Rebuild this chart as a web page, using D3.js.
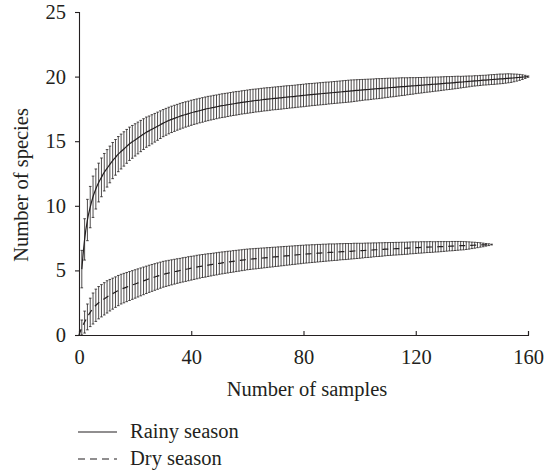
<!DOCTYPE html>
<html><head><meta charset="utf-8">
<script src="https://cdn.jsdelivr.net/npm/d3@7/dist/d3.min.js"></script>
<style>body{margin:0;background:#fff}svg{display:block}text{font-family:"Liberation Serif","DejaVu Serif",serif;fill:#231f20}</style>
</head><body><svg id="c" width="553" height="471"></svg>
<script>
const xTicks = [0, 40, 80, 120, 160];
const yTicks = [0, 5, 10, 15, 20, 25];
const seriesNames = ["Rainy season", "Dry season"];

// Rainy season: samples 1..160
const rainyMean = [5.1,7.4,8.9,9.9,10.7,11.3,11.8,12.2,12.6,12.9,
13.2,13.5,13.75,14.0,14.2,14.4,14.6,14.8,14.95,15.1,
15.25,15.4,15.55,15.7,15.8,15.92,16.04,16.16,16.28,16.4,
16.5,16.6,16.69,16.77,16.85,16.93,17.0,17.07,17.13,17.2,
17.26,17.31,17.37,17.42,17.48,17.53,17.57,17.62,17.66,17.71,
17.75,17.78,17.82,17.86,17.9,17.93,17.96,18.0,18.03,18.06,
18.09,18.12,18.15,18.17,18.2,18.23,18.25,18.27,18.3,18.32,
18.34,18.36,18.39,18.41,18.43,18.45,18.47,18.5,18.52,18.54,
18.57,18.59,18.61,18.63,18.65,18.67,18.69,18.71,18.73,18.75,
18.77,18.79,18.81,18.83,18.85,18.87,18.89,18.91,18.93,18.95,
18.97,18.99,19.0,19.02,19.04,19.06,19.07,19.09,19.11,19.13,
19.15,19.16,19.18,19.2,19.22,19.23,19.25,19.27,19.28,19.3,
19.32,19.33,19.35,19.37,19.38,19.4,19.42,19.43,19.45,19.47,
19.49,19.5,19.52,19.54,19.56,19.57,19.59,19.61,19.63,19.65,
19.67,19.68,19.7,19.72,19.73,19.75,19.77,19.78,19.8,19.82,
19.83,19.85,19.87,19.88,19.9,19.92,19.94,19.96,19.98,20.0];
const rainySD = [1.45,1.6,1.6,1.6,1.6,1.55,1.5,1.5,1.45,1.45,
1.42,1.4,1.38,1.36,1.35,1.33,1.31,1.29,1.27,1.25,
1.23,1.21,1.19,1.17,1.15,1.13,1.11,1.09,1.07,1.05,
1.04,1.03,1.02,1.01,1.0,1.0,0.99,0.98,0.97,0.97,
0.96,0.96,0.95,0.95,0.94,0.94,0.93,0.93,0.92,0.92,
0.92,0.92,0.91,0.91,0.91,0.91,0.9,0.9,0.9,0.9,
0.9,0.9,0.89,0.89,0.89,0.89,0.89,0.88,0.88,0.88,
0.88,0.88,0.88,0.88,0.87,0.87,0.87,0.87,0.87,0.87,
0.87,0.87,0.86,0.86,0.86,0.86,0.86,0.86,0.85,0.85,
0.85,0.85,0.85,0.85,0.85,0.85,0.85,0.84,0.83,0.82,
0.81,0.8,0.8,0.79,0.78,0.78,0.77,0.76,0.75,0.74,
0.73,0.72,0.71,0.7,0.69,0.68,0.66,0.65,0.64,0.62,
0.61,0.6,0.59,0.58,0.57,0.56,0.55,0.54,0.53,0.52,
0.51,0.5,0.49,0.48,0.47,0.45,0.44,0.43,0.42,0.4,
0.4,0.39,0.39,0.38,0.38,0.38,0.38,0.38,0.38,0.38,
0.37,0.36,0.35,0.33,0.3,0.27,0.23,0.18,0.12,0.05];

// Dry season: samples 0..147
const dryMean = [0,0.58,1.0,1.4,1.75,2.05,2.3,2.5,2.65,2.8,2.95,
3.08,3.2,3.32,3.44,3.55,3.63,3.71,3.79,3.87,3.95,
4.03,4.11,4.19,4.27,4.35,4.42,4.49,4.56,4.63,4.7,
4.75,4.8,4.85,4.9,4.95,4.99,5.04,5.08,5.13,5.17,
5.21,5.26,5.3,5.34,5.37,5.41,5.44,5.48,5.51,5.55,
5.58,5.61,5.64,5.67,5.7,5.73,5.76,5.79,5.82,5.85,
5.87,5.89,5.91,5.93,5.95,5.97,5.99,6.01,6.03,6.05,
6.07,6.09,6.11,6.13,6.15,6.17,6.19,6.21,6.23,6.25,
6.27,6.28,6.3,6.31,6.33,6.34,6.36,6.37,6.39,6.4,
6.41,6.42,6.44,6.45,6.46,6.47,6.48,6.5,6.51,6.52,
6.53,6.55,6.56,6.57,6.59,6.6,6.61,6.62,6.64,6.65,
6.66,6.67,6.68,6.69,6.7,6.71,6.72,6.74,6.75,6.76,
6.77,6.78,6.79,6.8,6.81,6.81,6.82,6.83,6.84,6.85,
6.86,6.87,6.88,6.89,6.9,6.91,6.91,6.92,6.93,6.94,
6.95,6.96,6.97,6.97,6.98,6.99,7.0];
const drySD = [0,0.58,0.85,1.0,1.1,1.2,1.25,1.25,1.25,1.25,1.25,
1.22,1.2,1.18,1.17,1.15,1.14,1.13,1.12,1.11,1.1,
1.09,1.08,1.07,1.06,1.05,1.04,1.03,1.02,1.01,1.0,
0.99,0.98,0.97,0.96,0.95,0.94,0.94,0.93,0.93,0.92,
0.91,0.91,0.9,0.89,0.89,0.88,0.87,0.86,0.86,0.85,
0.85,0.84,0.84,0.83,0.83,0.82,0.82,0.81,0.81,0.8,
0.8,0.79,0.79,0.78,0.78,0.77,0.77,0.76,0.76,0.75,
0.75,0.74,0.74,0.73,0.73,0.72,0.72,0.71,0.71,0.7,
0.7,0.69,0.69,0.68,0.68,0.67,0.67,0.66,0.66,0.65,
0.64,0.64,0.63,0.62,0.62,0.61,0.6,0.6,0.59,0.58,
0.57,0.56,0.56,0.55,0.54,0.53,0.53,0.52,0.51,0.5,
0.5,0.49,0.49,0.48,0.48,0.47,0.47,0.46,0.46,0.45,
0.44,0.44,0.43,0.42,0.42,0.41,0.4,0.4,0.39,0.38,
0.37,0.36,0.36,0.35,0.34,0.33,0.32,0.3,0.28,0.25,
0.23,0.2,0.17,0.14,0.1,0.07,0.03];

const svg = d3.select("#c");
const x = d3.scaleLinear().domain([0,160]).range([79,528]);
const y = d3.scaleLinear().domain([0,25]).range([335,12]);
const ink = "#231f20";
const fs = 20.5;

const rainy = rainyMean.map((m,i)=>({n:i+1,m,s:rainySD[i]}));
const dry = dryMean.map((m,i)=>({n:i,m,s:drySD[i]}));

function bars(data){
  const g = svg.append("g").attr("stroke", ink).attr("stroke-width", 0.8).attr("fill","none");
  data.filter(d=>d.s>0).forEach(d=>{
    const lo = Math.max(0, d.m - d.s), hi = d.m + d.s;
    const xx = x(d.n);
    g.append("line").attr("x1",xx).attr("x2",xx).attr("y1",y(lo)).attr("y2",y(hi));
    g.append("line").attr("x1",xx-1.3).attr("x2",xx+1.3).attr("y1",y(hi)).attr("y2",y(hi));
    g.append("line").attr("x1",xx-1.3).attr("x2",xx+1.3).attr("y1",y(lo)).attr("y2",y(lo));
  });
}
bars(rainy);
bars(dry);

const line = d3.line().x(d=>x(d.n)).y(d=>y(d.m)).curve(d3.curveMonotoneX);
svg.append("path").datum(rainy).attr("d",line).attr("fill","none").attr("stroke",ink).attr("stroke-width",1.2);
svg.append("path").datum(dry).attr("d",line).attr("fill","none").attr("stroke",ink).attr("stroke-width",1.2).attr("stroke-dasharray","6,5");

// axes
const yAxis = d3.axisLeft(y).tickValues(yTicks).tickSize(4).tickPadding(9).tickFormat(d3.format("d"));
const gy = svg.append("g").attr("transform","translate(79,0)").call(yAxis);
const xAxis = d3.axisBottom(x).tickValues(xTicks).tickSize(-4).tickPadding(14).tickFormat(d3.format("d"));
const gx = svg.append("g").attr("transform","translate(0,335)").call(xAxis);
[gy,gx].forEach(g=>{
  g.select(".domain").attr("stroke",ink).attr("stroke-width",1.1);
  g.selectAll(".tick line").attr("stroke",ink).attr("stroke-width",1.1);
  g.selectAll(".tick text").attr("font-size",fs).attr("font-family","Liberation Serif").attr("fill",ink);
});
gx.selectAll(".tick text").attr("dy","0.71em");

svg.append("text").attr("x",307).attr("y",396).attr("text-anchor","middle").attr("font-size",fs).text("Number of samples");
svg.append("text").attr("transform","translate(28,185) rotate(-90)").attr("text-anchor","middle").attr("font-size",fs).text("Number of species");

// legend
const leg = svg.append("g");
seriesNames.forEach((nm,i)=>{
  const yy = 432 + i*27;
  leg.append("line").attr("x1",78).attr("x2",117).attr("y1",yy).attr("y2",yy)
    .attr("stroke",ink).attr("stroke-width",1.2).attr("stroke-dasharray", i===1 ? "7,5" : null);
  leg.append("text").attr("x",130).attr("y",yy+6).attr("font-size",fs).text(nm);
});
</script></body></html>
